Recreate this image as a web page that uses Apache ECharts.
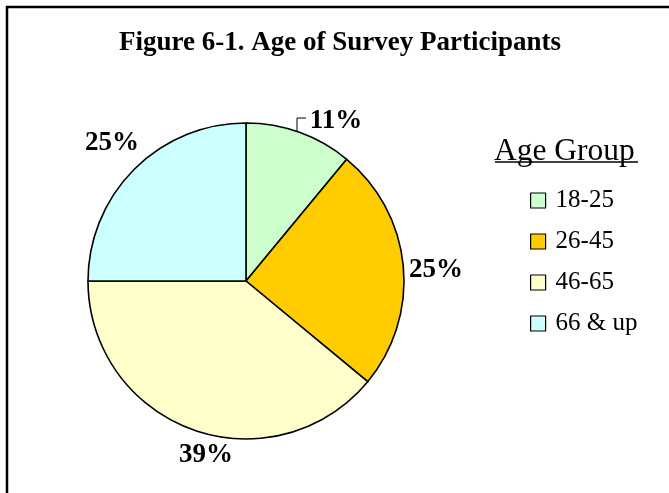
<!DOCTYPE html>
<html>
<head>
<meta charset="utf-8">
<script src="https://cdn.jsdelivr.net/npm/echarts@6/dist/echarts.min.js"></script>
<style>
  html, body { margin: 0; padding: 0; background: #fff; }
  #chart { width: 669px; height: 493px; }
</style>
</head>
<body>
<div id="chart"></div>
<script>
// data
var ageGroups = ['18-25', '26-45', '46-65', '66 & up'];
var shares = [11, 25, 39, 25];
var sliceColors = ['#ccffcc', '#ffcc00', '#ffffcc', '#ccffff'];

// where each percent label sits (label centre)
var labelSpots = [[336, 121], [436, 270], [206, 455], [112, 143]];

var serif = '"Liberation Serif", "Times New Roman", serif';

var chart = echarts.init(document.getElementById('chart'));

var pieData = ageGroups.map(function (name, i) {
  return {
    name: name,
    value: shares[i],
    itemStyle: { color: sliceColors[i] },
    labelLine: { show: i === 0 }
  };
});

chart.setOption({
  animation: false,
  title: [
    {
      text: 'Figure 6-1. Age of Survey Participants',
      left: 114,
      top: 25,
      textStyle: { fontFamily: serif, fontWeight: 'bold', fontSize: 27, color: '#000' }
    },
    {
      text: 'Age Group',
      left: 489,
      top: 131,
      textStyle: { fontFamily: serif, fontWeight: 'normal', fontSize: 31.5, color: '#000' }
    }
  ],
  legend: {
    orient: 'vertical',
    left: 525,
    top: 183,
    icon: 'rect',
    itemWidth: 15,
    itemHeight: 15,
    itemGap: 16,
    itemStyle: { borderColor: '#000', borderWidth: 1.2 },
    textStyle: { fontFamily: serif, fontSize: 25, color: '#000', lineHeight: 25, padding: [0, 0, 0, 5] },
    data: ageGroups
  },
  graphic: [
    // frame of the figure: top and left edges only
    { type: 'line', shape: { x1: 6, y1: 7, x2: 669, y2: 7 }, style: { stroke: '#000', lineWidth: 2.5 } },
    { type: 'line', shape: { x1: 7, y1: 6, x2: 7, y2: 493 }, style: { stroke: '#000', lineWidth: 2.5 } },
    // underline of legend heading
    { type: 'line', shape: { x1: 495, y1: 162, x2: 638, y2: 162 }, style: { stroke: '#000', lineWidth: 1.5 } }
  ],
  series: [
    {
      type: 'pie',
      center: [246, 281],
      radius: 158,
      startAngle: 90,
      clockwise: true,
      itemStyle: { borderColor: '#000', borderWidth: 1.6 },
      emphasis: { disabled: true },
      label: {
        show: true,
        position: 'outside',
        formatter: '{d}%',
        fontFamily: serif,
        fontWeight: 'bold',
        fontSize: 27,
        color: '#000'
      },
      labelLine: { show: false, lineStyle: { color: '#000', width: 1 } },
      labelLayout: function (p) {
        var spot = labelSpots[p.dataIndex];
        var out = { x: spot[0], y: spot[1], align: 'center', verticalAlign: 'middle' };
        if (p.dataIndex === 0) {
          out.labelLinePoints = [[297, 132], [297, 118], [306, 118]];
        }
        return out;
      },
      data: pieData
    }
  ]
});
</script>
</body>
</html>
